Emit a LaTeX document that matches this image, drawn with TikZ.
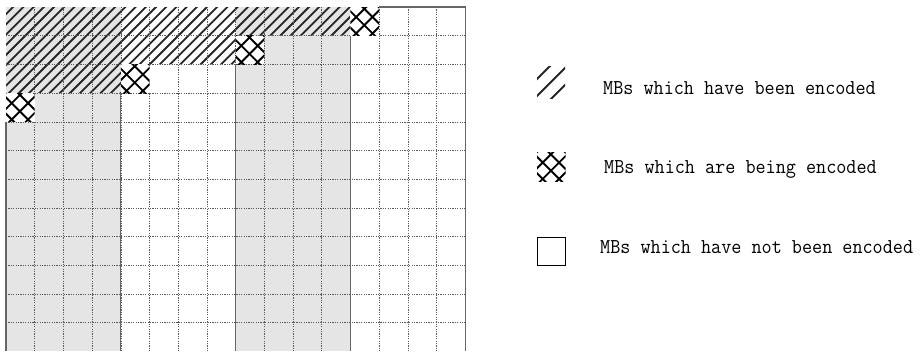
\documentclass[tikz,border=0pt]{standalone}
\usepackage{graphicx}
\usepackage{fontspec}
\newcommand{\legtxt}[1]{\scalebox{1}[1.08]{\ttfamily\fontsize{19.6}{22}\selectfont #1}}
\newcommand{\xcell}[2]{%
  \begin{scope}[shift={(#1,#2)}]
    \fill[white] (0,0) rectangle (28.7,28.7);
    \clip (0,0) rectangle (28.7,28.7);
    \foreach \d in {-0.72,-0.15,0.42,0.99}
      \draw[crossline] ({\d*28.7-10},-10) -- ++(60,60);
    \foreach \e in {-0.02,0.55,1.12,1.69}
      \draw[crossline] ({\e*28.7+10},-10) -- ++(-60,60);
  \end{scope}}
\begin{document}
\begin{tikzpicture}[x=1pt,y=-1pt,
  hatchline/.style={line width=1.8pt,black!85},
  crossline/.style={line width=1.9pt,black},
  gridline/.style={line width=0.6pt,black!65,dash pattern=on 1.2pt off 1.2pt},
  solidline/.style={line width=1.1pt,black!60},
  legtext/.style={anchor=base west,inner sep=0pt}]
\useasboundingbox (0,0) rectangle (923,351);
% grey bands
\fill[gray!20] (6,7) rectangle (120.8,351.4);
\fill[gray!20] (235.6,7) rectangle (350.4,351.4);
% encoded region hatching
\begin{scope}
  \clip (6,7) -- (350.4,7) -- (350.4,35.7) -- (235.6,35.7) -- (235.6,64.4)
    -- (120.8,64.4) -- (120.8,93.1) -- (6,93.1) -- cycle;
  \foreach \k in {0,...,40}
    \draw[hatchline] ({\k*10.2-100},110) -- ++(130,-130);
\end{scope}
% dotted grid
\foreach \i in {1,...,15}
  \draw[gridline] ({6+28.7*\i},7) -- ({6+28.7*\i},351.4);
\foreach \j in {1,...,11}
  \draw[gridline] (6,{7+28.7*\j}) -- (465.2,{7+28.7*\j});
% MBs being encoded
\xcell{350.4}{7}
\xcell{235.6}{35.7}
\xcell{120.8}{64.4}
\xcell{6}{93.1}
% boundary of not encoded region
\draw[solidline] (6,121.8) -- (6,351.4);
\draw[solidline] (120.8,93.1) -- (120.8,351.4);
\draw[solidline] (235.6,64.4) -- (235.6,351.4);
\draw[solidline] (350.4,35.7) -- (350.4,351.4);
\draw[solidline] (379.1,7) -- (465.2,7) -- (465.2,351.4);
% legend
\begin{scope}
  \clip (537,66) rectangle (565,98);
  \foreach \a in {616,633,650}
    \draw[hatchline] ({\a-110},110) -- ({\a-40},40);
\end{scope}
\xcell{537}{152.5}
\draw[line width=0.8pt,black] (537,237) rectangle (565,265);
\node[legtext] (t1) at (603,94) {\legtxt{MBs which have been encoded}};
\node[legtext] (t2) at (604,173) {\legtxt{MBs which are being encoded}};
\node[legtext] (t3) at (600,253) {\legtxt{MBs which have not been encoded}};
\end{tikzpicture}
\end{document}
